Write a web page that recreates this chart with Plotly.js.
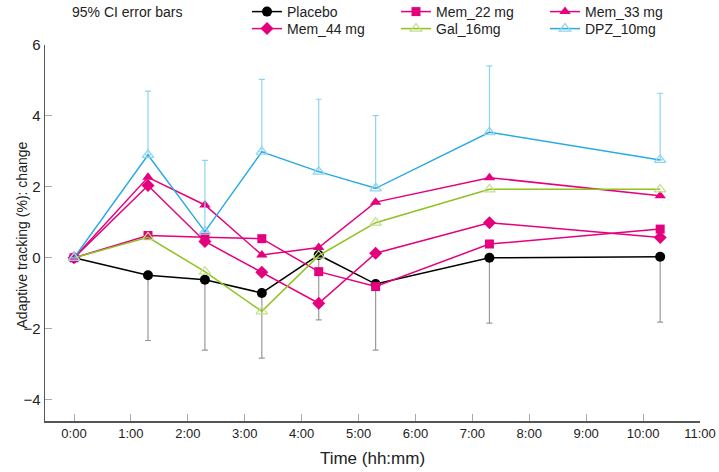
<!DOCTYPE html>
<html>
<head>
<meta charset="utf-8">
<script src="https://cdn.plot.ly/plotly-3.0.1.min.js"></script>
<style>html,body{margin:0;padding:0;background:#fff}#chart{width:719px;height:472px}</style>
</head>
<body>
<div id="chart"></div>
<script>
// time in hours after dose
const hours = [0, 1.3, 2.3, 3.3, 4.3, 5.3, 7.3, 10.3];
const tickHours = [0,1,2,3,4,5,6,7,8,9,10,11];
const tickLabels = ["0:00","1:00","2:00","3:00","4:00","5:00","6:00","7:00","8:00","9:00","10:00","11:00"];

const placebo = [0, -0.49, -0.62, -0.99, 0.08, -0.74, 0.00, 0.03];
const placeboLowerCI = [0, -2.33, -2.60, -2.83, -1.75, -2.60, -1.84, -1.81];
const mem22 = [0, 0.63, 0.58, 0.54, -0.39, -0.81, 0.39, 0.81];
const mem33 = [0, 2.27, 1.49, 0.08, 0.29, 1.57, 2.26, 1.75];
const mem44 = [0, 2.04, 0.46, -0.41, -1.28, 0.13, 0.99, 0.57];
const gal16 = [0, 0.58, -0.39, -1.51, 0.06, 0.99, 1.93, 1.93];
const dpz10 = [0, 2.90, 0.74, 2.99, 2.43, 1.96, 3.54, 2.76];
const dpzUpperCI = [0, 4.70, 2.75, 5.03, 4.47, 4.01, 5.41, 4.64];

const names = ["Placebo","Mem_22 mg","Mem_33 mg","Mem_44 mg","Gal_16mg","DPZ_10mg"];

const MAG = "#e5007d";
const placeboMinus = placebo.map((v,i)=>v - placeboLowerCI[i]);
const dpzPlus = dpz10.map((v,i)=>dpzUpperCI[i] - v);
const zeros = hours.map(()=>0);

const traces = [
  {x:hours, y:placebo, name:names[0], legend:'legend', mode:'lines+markers',
   line:{color:'#000', width:1.5}, marker:{symbol:'circle', size:10, color:'#000'},
   error_y:{type:'data', symmetric:false, array:zeros, arrayminus:placeboMinus, color:'#999', thickness:1.2, width:3}},
  {x:hours, y:mem22, name:names[1], legend:'legend', mode:'lines+markers',
   line:{color:MAG, width:1.5}, marker:{symbol:'square', size:9, color:MAG}},
  {x:hours, y:mem33, name:names[2], legend:'legend', mode:'lines+markers',
   line:{color:MAG, width:1.5}, marker:{symbol:'triangle-up', size:10, color:MAG}},
  {x:hours, y:mem44, name:names[3], legend:'legend2', mode:'lines+markers',
   line:{color:MAG, width:1.5}, marker:{symbol:'diamond', size:10, color:MAG}},
  {x:hours, y:gal16, name:names[4], legend:'legend2', mode:'lines+markers',
   line:{color:'#8dc21f', width:1.5}, marker:{symbol:'triangle-up-open', size:10, color:'#c3df86', line:{width:1.2}}},
  {x:hours, y:dpz10, name:names[5], legend:'legend2', mode:'lines+markers',
   line:{color:'#29abe2', width:1.5}, marker:{symbol:'triangle-up-open', size:10, color:'#8dd4f2', line:{width:1.2}},
   error_y:{type:'data', symmetric:false, array:dpzPlus, arrayminus:zeros, color:'#8dd4f2', thickness:1.2, width:3}}
];

const FONT = '"Liberation Sans", Arial, sans-serif';
const NARROW = '"Liberation Sans Narrow", "Arial Narrow", "Liberation Sans", Arial, sans-serif';

const legendCommon = {orientation:'h', xref:'container', yref:'container', xanchor:'left', yanchor:'middle',
  entrywidth:104, entrywidthmode:'pixels', itemwidth:30, traceorder:'normal',
  font:{family:FONT, size:14, color:'#222'}, bgcolor:'rgba(0,0,0,0)', tracegroupgap:0};

const layout = {
  width:719, height:472,
  margin:{l:45, r:19, t:44, b:51},
  paper_bgcolor:'#fff', plot_bgcolor:'#fff',
  font:{family:FONT, color:'#222'},
  showlegend:true,
  legend:Object.assign({}, legendCommon, {x:247/719, y:1-12/472}),
  legend2:Object.assign({}, legendCommon, {x:247/719, y:1-29/472}),
  xaxis:{range:[-0.51, 11], tickmode:'array', tickvals:tickHours, ticktext:tickLabels,
    showgrid:false, zeroline:false, showline:true, linecolor:'#555', linewidth:1.5,
    ticks:'inside', ticklen:7, tickcolor:'#aaa', tickwidth:1,
    tickfont:{family:NARROW, size:13, color:'#222'},
    title:{text:'Time (hh:mm)', font:{family:FONT, size:17, color:'#222'}, standoff:12}},
  yaxis:{range:[-4.6, 6.0], tickmode:'array', tickvals:[-4,-2,0,2,4,6],
    showgrid:false, zeroline:false, showline:true, linecolor:'#555', linewidth:1.5,
    ticks:'inside', ticklen:7, tickcolor:'#aaa', tickwidth:1,
    tickfont:{family:NARROW, size:15, color:'#222'}},
  annotations:[
    {text:'95% CI error bars', xref:'paper', yref:'paper', x:(70-45)/655, y:1+(44-11)/377,
     xanchor:'left', yanchor:'middle', showarrow:false, font:{family:FONT, size:14, color:'#222'}},
    {text:'Adaptive tracking (%): change', xref:'paper', yref:'paper', x:(22-45)/655, y:(421-235)/377,
     xanchor:'center', yanchor:'middle', textangle:-90, showarrow:false, font:{family:FONT, size:14, color:'#222'}}
  ]
};

Plotly.newPlot('chart', traces, layout, {displayModeBar:false, staticPlot:true});
</script>
</body>
</html>
